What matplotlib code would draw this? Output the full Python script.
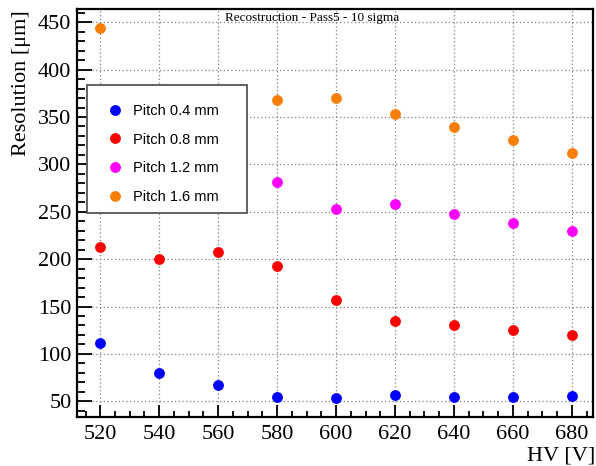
import matplotlib
matplotlib.use("Agg")
import matplotlib.pyplot as plt
from matplotlib.ticker import MultipleLocator
from matplotlib.patches import Rectangle

# High voltage settings [V]
hv = [520, 540, 560, 580, 600, 620, 640, 660, 680]

# Spatial resolution [um] per strip pitch
res_p04 = [111, 80, 67, 54, 53, 57, 55, 55, 56]
res_p08 = [213, 200, 208, 193, 157, 135, 130, 125, 120]
hv_p12 = [580, 600, 620, 640, 660, 680]
res_p12 = [281, 253, 258, 248, 238, 230]
hv_p16 = [520, 580, 600, 620, 640, 660, 680]
res_p16 = [444, 368, 370, 353, 339, 326, 312]

labels = ["Pitch 0.4 mm", "Pitch 0.8 mm", "Pitch 1.2 mm", "Pitch 1.6 mm"]
colors = ["#0000ff", "#ff0000", "#ff00ff", "#f87e0a"]

serif = "Liberation Serif"
W, H = 596, 466
fig = plt.figure(figsize=(W / 100, H / 100), dpi=100)
ax = fig.add_axes([77 / W, 1 - 417 / H, (593 - 77) / W, (417 - 9) / H])

series = [(hv, res_p04), (hv, res_p08), (hv_p12, res_p12), (hv_p16, res_p16)]
for (x, y), lab, c in zip(series, labels, colors):
    ax.plot(x, y, "o", color=c, markersize=7.8, markeredgewidth=0,
            label=lab, zorder=3)

ax.set_xlim(512.1, 687.2)
ax.set_ylim(33.4, 464)
ax.xaxis.set_major_locator(MultipleLocator(20))
ax.xaxis.set_minor_locator(MultipleLocator(5))
ax.yaxis.set_major_locator(MultipleLocator(50))
ax.yaxis.set_minor_locator(MultipleLocator(10))

ax.grid(True, which="major", color="#808080", linestyle=(0, (1, 2)),
        linewidth=0.9)
ax.set_axisbelow(True)

for side in ["left", "bottom", "right", "top"]:
    ax.spines[side].set_linewidth(1.6)

ax.tick_params(axis="both", which="both", direction="in", width=1.3,
               top=False, right=False, labelsize=16)
ax.tick_params(axis="y", which="major", length=11, pad=4)
ax.tick_params(axis="y", which="minor", length=5.5)
ax.tick_params(axis="x", which="major", length=9, pad=6)
ax.tick_params(axis="x", which="minor", length=4.5)
for lbl in ax.get_xticklabels() + ax.get_yticklabels():
    lbl.set_family(serif)

fig.text(12 / W, 1 - 10 / H, "Resolution [\u03bcm]", family=serif,
         fontsize=16, rotation=90, ha="left", va="top")
fig.text(595 / W, 5 / H, "HV [V]", family=serif, fontsize=16,
         ha="right", va="baseline")
fig.text(312 / W, 1 - 12 / H, "Recostruction - Pass5 - 10 sigma",
         family=serif, fontsize=9.5, ha="center", va="top")

# Legend box drawn in figure pixels, entries placed inside it
box = Rectangle((87 / W, 1 - 213 / H), (247 - 87) / W, (213 - 85) / H,
                transform=fig.transFigure, facecolor="white",
                edgecolor="#555555", linewidth=1.3, zorder=4)
fig.add_artist(box)
leg = fig.legend(*ax.get_legend_handles_labels(), loc="upper left",
                 bbox_to_anchor=(106 / W, 1 - 104 / H),
                 borderaxespad=0, borderpad=0, frameon=False,
                 prop={"family": "Liberation Sans", "size": 10.5},
                 handlelength=1.2, handletextpad=0.63, labelspacing=1.0)
leg.set_zorder(5)

fig.savefig("out.png", dpi=100)
